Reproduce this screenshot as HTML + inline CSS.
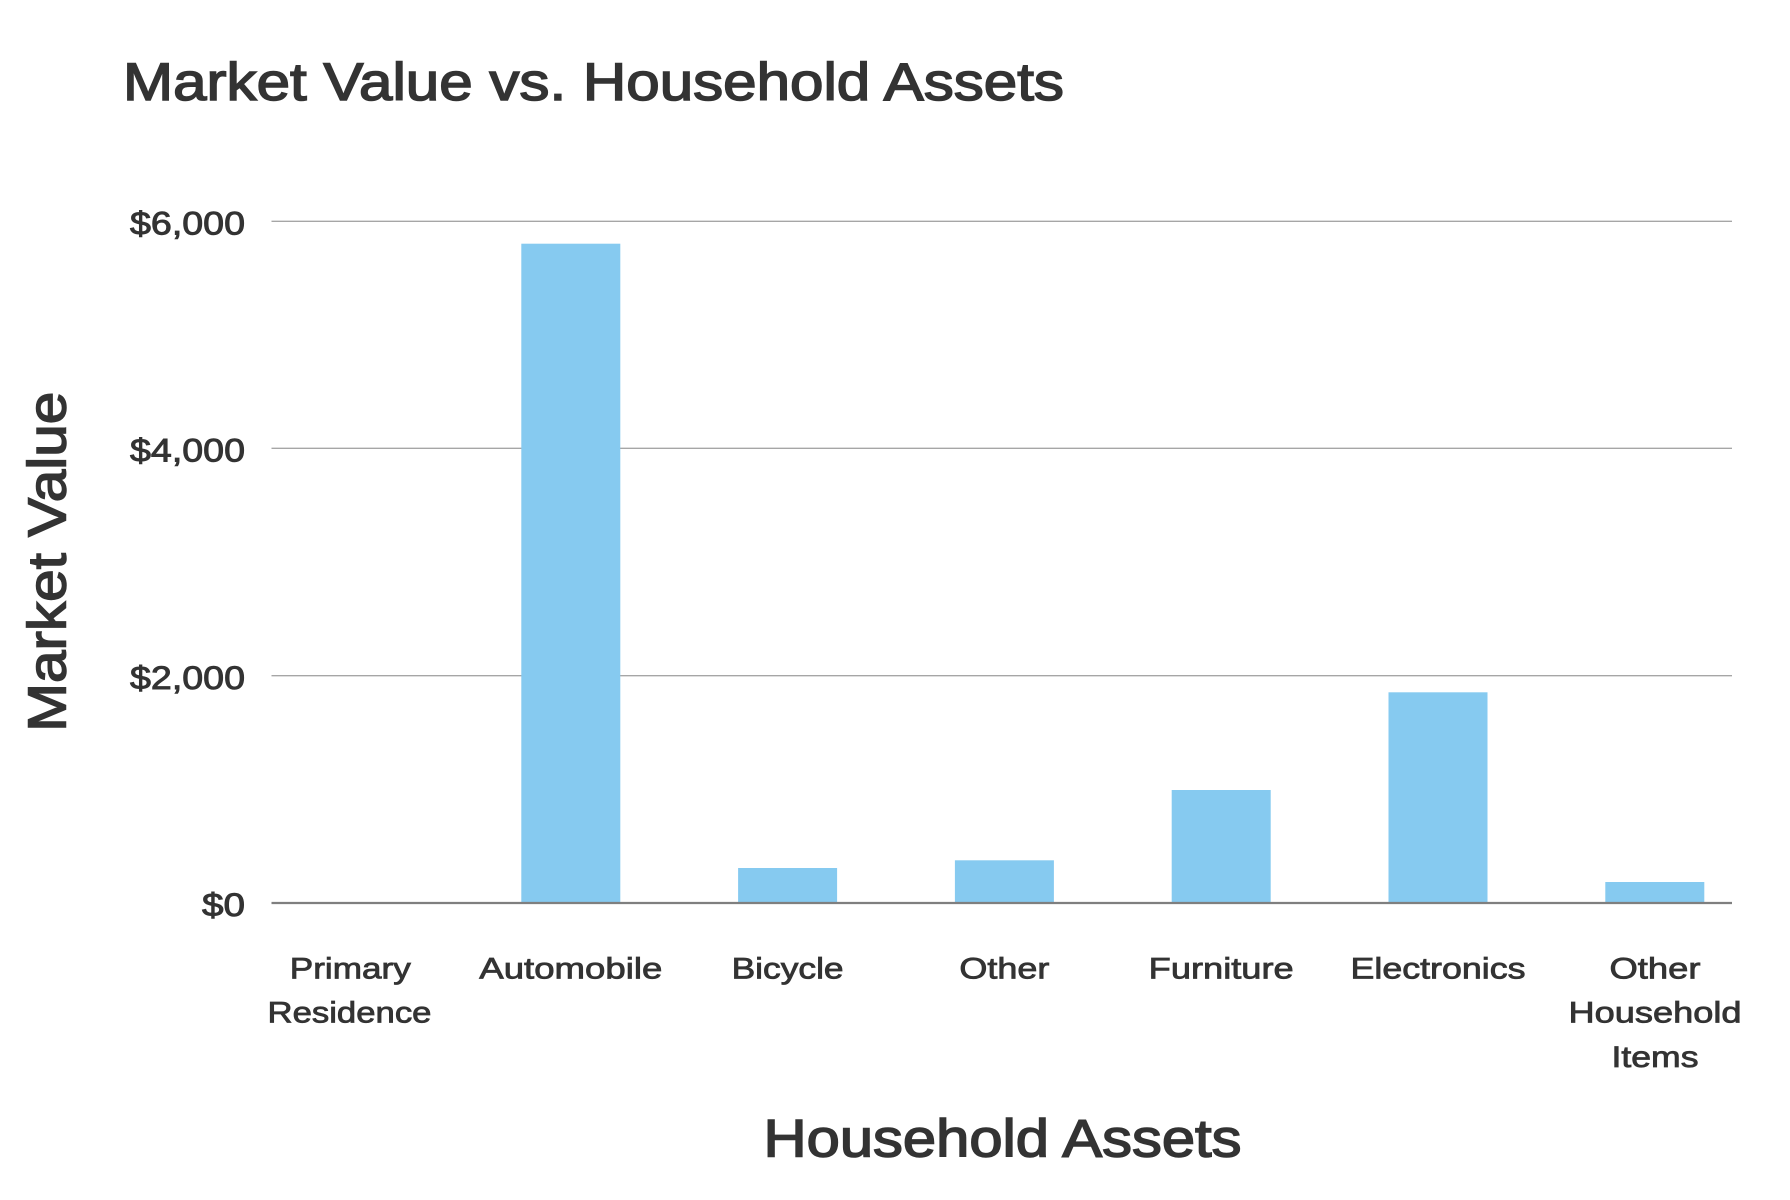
<!DOCTYPE html>
<html>
<head>
<meta charset="utf-8">
<style>
  html, body { margin: 0; padding: 0; background: #ffffff; }
  body { width: 1790px; height: 1200px; overflow: hidden; }
  svg { display: block; }
  text { font-family: "Liberation Sans", Arial, sans-serif; fill: #333333; font-weight: normal; stroke: #333333; paint-order: stroke; }
  .big { stroke-width: 1.5px; }
  .mid { stroke-width: 0.9px; }
  .sm { stroke-width: 0.8px; }
</style>
</head>
<body>
<svg width="1790" height="1200" viewBox="0 0 1790 1200" xmlns="http://www.w3.org/2000/svg">
  <rect x="0" y="0" width="1790" height="1200" fill="#ffffff"/>

  <!-- Title -->
  <text class="big" x="123" y="100" font-size="52.5" textLength="941" lengthAdjust="spacingAndGlyphs">Market Value vs. Household Assets</text>

  <!-- Gridlines -->
  <line x1="271.5" y1="221.3" x2="1732" y2="221.3" stroke="#a6a6a6" stroke-width="1.3"/>
  <line x1="271.5" y1="448.3" x2="1732" y2="448.3" stroke="#a6a6a6" stroke-width="1.3"/>
  <line x1="271.5" y1="675.7" x2="1732" y2="675.7" stroke="#a6a6a6" stroke-width="1.3"/>

  <!-- Y tick labels -->
  <g class="mid">
  <text class="mid" x="245" y="234.5" font-size="32" text-anchor="end" textLength="115" lengthAdjust="spacingAndGlyphs">$6,000</text>
  <text class="mid" x="245" y="461.5" font-size="32" text-anchor="end" textLength="115" lengthAdjust="spacingAndGlyphs">$4,000</text>
  <text class="mid" x="245" y="688.8" font-size="32" text-anchor="end" textLength="115" lengthAdjust="spacingAndGlyphs">$2,000</text>
  <text class="mid" x="245" y="916" font-size="32" text-anchor="end" textLength="43" lengthAdjust="spacingAndGlyphs">$0</text>
  </g>

  <!-- Bars -->
  <g fill="#86caf0">
    <rect x="521.3" y="243.7" width="99" height="659.3"/>
    <rect x="738.1" y="868" width="99" height="35"/>
    <rect x="954.9" y="860.3" width="99" height="42.7"/>
    <rect x="1171.7" y="790" width="99" height="113"/>
    <rect x="1388.5" y="692.3" width="99" height="210.7"/>
    <rect x="1605.3" y="882" width="99" height="21"/>
  </g>

  <!-- Axis line -->
  <line x1="271.5" y1="903" x2="1732" y2="903" stroke="#7f7f7f" stroke-width="2.2"/>

  <!-- Category labels -->
  <g font-size="30" text-anchor="middle">
    <text class="sm" x="350.3" y="978.3" textLength="121" lengthAdjust="spacingAndGlyphs">Primary</text>
    <text class="sm" x="349.5" y="1022.7" textLength="164" lengthAdjust="spacingAndGlyphs">Residence</text>
    <text class="sm" x="570.8" y="978.3" textLength="183" lengthAdjust="spacingAndGlyphs">Automobile</text>
    <text class="sm" x="787.6" y="978.3" textLength="112" lengthAdjust="spacingAndGlyphs">Bicycle</text>
    <text class="sm" x="1004.4" y="978.3" textLength="90" lengthAdjust="spacingAndGlyphs">Other</text>
    <text class="sm" x="1221.2" y="978.3" textLength="145" lengthAdjust="spacingAndGlyphs">Furniture</text>
    <text class="sm" x="1438" y="978.3" textLength="175" lengthAdjust="spacingAndGlyphs">Electronics</text>
    <text class="sm" x="1655" y="978.3" textLength="91" lengthAdjust="spacingAndGlyphs">Other</text>
    <text class="sm" x="1655" y="1022.7" textLength="173" lengthAdjust="spacingAndGlyphs">Household</text>
    <text class="sm" x="1655" y="1067.1" textLength="87" lengthAdjust="spacingAndGlyphs">Items</text>
  </g>

  <!-- X axis title -->
  <text class="big" x="1002.5" y="1156.7" font-size="52.5" text-anchor="middle" textLength="478" lengthAdjust="spacingAndGlyphs">Household Assets</text>

  <!-- Y axis title -->
  <text class="big" transform="translate(65.5,561.7) rotate(-90)" x="0" y="0" font-size="54" text-anchor="middle" textLength="340" lengthAdjust="spacingAndGlyphs">Market Value</text>
</svg>
</body>
</html>
